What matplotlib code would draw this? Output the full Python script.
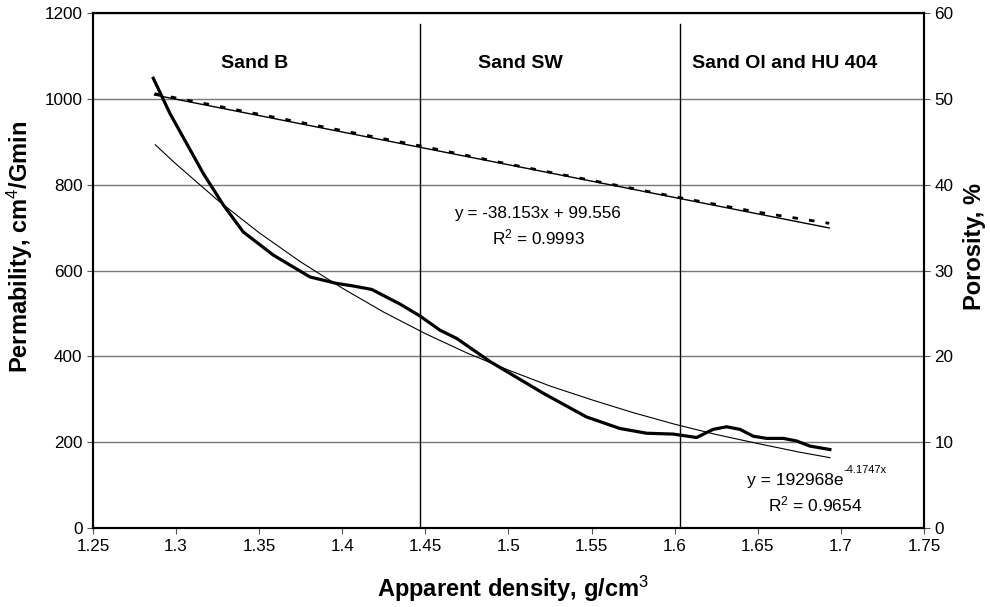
import matplotlib
matplotlib.use("Agg")
import matplotlib.pyplot as plt

plt.rcParams['font.family'] = ['Liberation Sans', 'DejaVu Sans']
plt.rcParams['mathtext.fontset'] = 'custom'
plt.rcParams['mathtext.rm'] = 'Liberation Sans'
plt.rcParams['mathtext.it'] = 'Liberation Sans'
plt.rcParams['mathtext.bf'] = 'Liberation Sans:bold'

# Permeability measurements (thick curve)
dens = [1.2863, 1.2963, 1.3164, 1.3284, 1.3404, 1.3585, 1.3806, 1.3966, 1.4066,
        1.4177, 1.4347, 1.4468, 1.4588, 1.4688, 1.4889, 1.5210, 1.5469, 1.5671,
        1.5831, 1.5991, 1.6132, 1.6232, 1.6312, 1.6393, 1.6473, 1.6553, 1.6653,
        1.6733, 1.6814, 1.6934]
perm = [1048, 966, 826, 753, 690, 636, 585, 570, 564,
        556, 522, 494, 461, 442, 388, 314, 259, 232,
        221, 219, 211, 230, 236, 230, 214, 209, 209,
        203, 191, 183]

# Exponential trendline (thin curve)
fit_x = [1.2875, 1.30, 1.325, 1.35, 1.375, 1.40, 1.425, 1.45, 1.475, 1.50,
         1.525, 1.55, 1.575, 1.60, 1.625, 1.65, 1.675, 1.6935]
fit_perm = [893, 848, 764, 688, 620, 559, 503, 453, 408, 368,
            331, 299, 269, 242, 218, 197, 177, 164]

# Porosity measurements (dashed) and linear trendline
por_x = [1.287, 1.30, 1.35, 1.40, 1.45, 1.50, 1.55, 1.60, 1.65, 1.693]
por = [50.6, 50.1, 48.2, 46.3, 44.4, 42.4, 40.5, 38.6, 36.8, 35.5]
por_fit_x = [1.287, 1.693]
por_fit = [50.45, 34.96]

zone_lines = [1.447, 1.603]
zone_names = ["Sand B", "Sand SW", "Sand Ol and HU 404"]
zone_pos = [1.3475, 1.507, 1.666]

fig = plt.figure(figsize=(9.9, 6.07), dpi=100)
ax = fig.add_axes([0.0939, 0.130, 0.8394, 0.8486])
ax2 = ax.twinx()

ax.set_xlim(1.25, 1.75)
ax.set_ylim(0, 1200)
ax2.set_ylim(0, 60)
ax.set_xticks([1.25 + 0.05 * i for i in range(11)])
ax.set_xticklabels(["1.25", "1.3", "1.35", "1.4", "1.45", "1.5", "1.55",
                    "1.6", "1.65", "1.7", "1.75"])
ax.set_yticks(range(0, 1201, 200))
ax2.set_yticks(range(0, 61, 10))

ax.grid(axis='y', color='#777777', linewidth=1)
ax.set_axisbelow(True)

for xv in zone_lines:
    ax.plot([xv, xv], [0, 1175], color='black', linewidth=1)

ax.plot(fit_x, fit_perm, color='black', linewidth=0.8)
ax.plot(dens, perm, color='black', linewidth=2.3)
ax2.plot(por_x, por, color='black', linewidth=2, linestyle=(0, (2, 4)))
ax2.plot(por_fit_x, por_fit, color='black', linewidth=1)

for name, xp in zip(zone_names, zone_pos):
    ax.text(xp, 1083, name, ha='center', va='center', fontsize=14, fontweight='bold')

# trendline labels
ax.text(1.5172, 734, "y = -38.153x + 99.556", ha='center', va='center', fontsize=12.3)
ax.text(1.5178, 678, "R$^2$ = 0.9993", ha='center', va='center', fontsize=12.3)
ax.text(1.7013, 112, "y = 192968e", ha='right', va='center', fontsize=12.5)
ax.text(1.7013, 135, "-4.1747x", ha='left', va='center', fontsize=8)
ax.text(1.6844, 54, "R$^2$ = 0.9654", ha='center', va='center', fontsize=12.5)

ax.set_xlabel("Apparent density, g/cm$^3$", fontsize=17, fontweight='bold')
ax.xaxis.set_label_coords(0.505, -0.088)
ax.set_ylabel("Permability, cm$^4$/Gmin", fontsize=17, fontweight='bold', va='center')
ax.yaxis.set_label_coords(-0.088, 0.546)
ax2.set_ylabel("Porosity, %", fontsize=17, fontweight='bold', va='center')
ax2.yaxis.set_label_coords(1.0614, 0.546)

for a in (ax, ax2):
    a.tick_params(labelsize=12.3, length=4, color='#555555')
    for s in a.spines.values():
        s.set_linewidth(1.5)
        s.set_color('black')

fig.savefig("out.png", dpi=100)
